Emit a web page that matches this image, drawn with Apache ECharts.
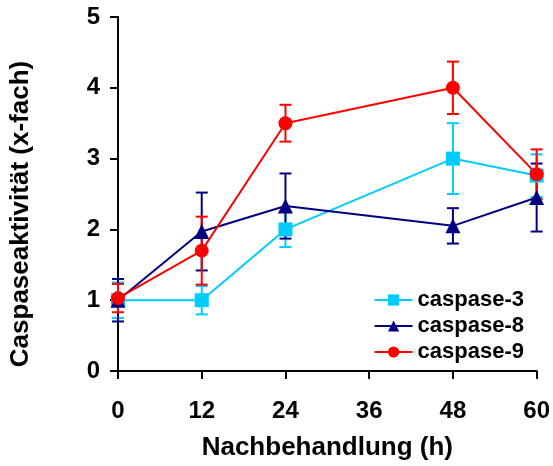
<!DOCTYPE html>
<html>
<head>
<meta charset="utf-8">
<script src="https://cdn.jsdelivr.net/npm/echarts@6/dist/echarts.min.js"></script>
<style>
  html, body { margin: 0; padding: 0; background: #fff; }
  #chart { width: 553px; height: 466px; }
</style>
</head>
<body>
<div id="chart"></div>
<script>
// time points (h)
const hours = [0, 12, 24, 48, 60]

const casp3 = [1.0, 1.0, 2.0, 3.0, 2.76]
const casp3Err = [0.25, 0.2, 0.25, 0.5, 0.3]

const casp8 = [1.0, 1.97, 2.33, 2.05, 2.45]
const casp8Err = [0.3, 0.55, 0.46, 0.25, 0.48]

const casp9 = [1.03, 1.7, 3.5, 4.0, 2.78]
const casp9Err = [0.2, 0.48, 0.26, 0.37, 0.35]

const xTicks = [0, 12, 24, 36, 48, 60]

const font = 'Arial, "Liberation Sans", sans-serif'

function errorSeries(name, vals, errs, color, z) {
  return {
    type: 'custom',
    name: name + ' err',
    z: z,
    silent: true,
    data: hours.map((h, i) => [h, vals[i] - errs[i], vals[i] + errs[i]]),
    renderItem(params, api) {
      const lo = api.coord([api.value(0), api.value(1)])
      const hi = api.coord([api.value(0), api.value(2)])
      const w = 6
      const style = { stroke: color, lineWidth: 2 }
      return {
        type: 'group',
        children: [
          { type: 'line', shape: { x1: hi[0], y1: hi[1], x2: lo[0], y2: lo[1] }, style },
          { type: 'line', shape: { x1: hi[0] - w, y1: hi[1], x2: hi[0] + w, y2: hi[1] }, style },
          { type: 'line', shape: { x1: lo[0] - w, y1: lo[1], x2: lo[0] + w, y2: lo[1] }, style }
        ]
      }
    }
  }
}

function lineSeries(name, vals, color, symbol, size, z) {
  return {
    type: 'line',
    name: name,
    z: z,
    data: hours.map((h, i) => [h, vals[i]]),
    symbol: symbol,
    symbolSize: size,
    showAllSymbol: true,
    itemStyle: { color: color },
    lineStyle: { color: color, width: 2 },
    animation: false
  }
}

const chart = echarts.init(document.getElementById('chart'))

chart.setOption({
  animation: false,
  grid: { left: 118, right: 12, top: 17, bottom: 94 },
  legend: {
    right: 24,
    top: 284,
    orient: 'vertical',
    itemGap: 4,
    itemWidth: 38,
    itemHeight: 14,
    data: ['caspase-3', 'caspase-8', 'caspase-9'],
    textStyle: { fontFamily: font, fontWeight: 'bold', fontSize: 22, color: '#000' }
  },
  xAxis: {
    type: 'value',
    min: 0,
    max: 60,
    interval: 12,
    name: 'Nachbehandlung (h)',
    nameLocation: 'middle',
    nameGap: 64,
    nameTextStyle: { fontFamily: font, fontWeight: 'bold', fontSize: 26, color: '#000' },
    axisLine: { lineStyle: { color: '#000', width: 2 } },
    axisTick: { show: true, inside: false, length: 8, lineStyle: { color: '#000', width: 2 } },
    axisLabel: {
      fontFamily: font, fontWeight: 'bold', fontSize: 24, color: '#000', margin: 28,
      formatter: v => xTicks.includes(v) ? String(v) : ''
    },
    splitLine: { show: false }
  },
  yAxis: {
    type: 'value',
    min: 0,
    max: 5,
    interval: 1,
    name: 'Caspaseaktivität (x-fach)',
    nameLocation: 'middle',
    nameGap: 84,
    nameTextStyle: {
      fontFamily: font, fontWeight: 'bold', fontSize: 26, color: '#000',
      padding: [0, 40, 0, 0]
    },
    axisLine: { show: true, lineStyle: { color: '#000', width: 2 } },
    axisTick: { show: true, inside: false, length: 8, lineStyle: { color: '#000', width: 2 } },
    axisLabel: {
      fontFamily: font, fontWeight: 'bold', fontSize: 24, color: '#000', margin: 18,
      padding: [10, 0, 0, 0]
    },
    splitLine: { show: false }
  },
  series: [
    errorSeries('caspase-3', casp3, casp3Err, '#00ccff', 2),
    errorSeries('caspase-8', casp8, casp8Err, '#000080', 3),
    errorSeries('caspase-9', casp9, casp9Err, '#ff0000', 4),
    lineSeries('caspase-3', casp3, '#00ccff', 'rect', 14, 5),
    lineSeries('caspase-8', casp8, '#000080', 'triangle', 15, 6),
    lineSeries('caspase-9', casp9, '#ff0000', 'circle', 14, 7)
  ]
})
</script>
</body>
</html>
